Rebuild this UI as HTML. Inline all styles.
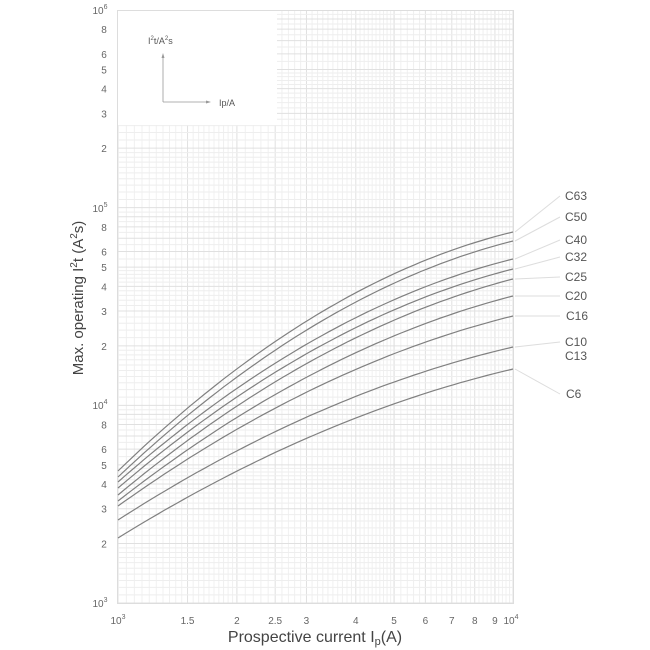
<!DOCTYPE html>
<html><head><meta charset="utf-8"><style>
html,body{margin:0;padding:0;background:#fff;}
svg{display:block;font-family:"Liberation Sans",Arial,sans-serif;}
</style></head><body>
<svg id="s" width="650" height="650" viewBox="0 0 650 650" xmlns="http://www.w3.org/2000/svg">
<g id="grid"></g>
<rect x="117" y="10" width="160" height="115" fill="#fff"/>
<rect x="117.5" y="10.5" width="396" height="593" fill="none" stroke="#ddd" stroke-width="1"/>
<g id="curves" fill="none" stroke="#808080" stroke-width="1.2"></g>
<g id="leaders" stroke="#ddd" stroke-width="1"></g>
<g fill="#555" font-size="12">
<text x="565" y="200">C63</text><text x="565" y="221">C50</text><text x="565" y="244">C40</text>
<text x="565" y="261">C32</text><text x="565" y="281">C25</text><text x="565" y="300">C20</text>
<text x="566" y="320">C16</text><text x="565" y="346">C10</text><text x="565" y="360">C13</text>
<text x="566" y="398">C6</text>
</g>
<g id="ticks" fill="#666" font-size="10"></g>
<g fill="#555" font-size="9">
<text x="148" y="44">I<tspan dy="-4" font-size="6">2</tspan><tspan dy="4">t/A</tspan><tspan dy="-4" font-size="6">2</tspan><tspan dy="4">s</tspan></text>
<text x="219" y="106">Ip/A</text>
</g>
<g stroke="#999" stroke-width="0.8" fill="none"><line x1="163" y1="102" x2="163" y2="56"/><line x1="163" y1="102" x2="208" y2="102"/></g>
<polygon points="161.5,58 164.5,58 163,53" fill="#999"/><polygon points="206,100.5 206,103.5 211,102" fill="#999"/>
<text x="315" y="642" text-anchor="middle" fill="#444" font-size="16">Prospective current I<tspan font-size="11" dy="3">p</tspan><tspan dy="-3">(A)</tspan></text>
<text transform="translate(83,298) rotate(-90)" text-anchor="middle" fill="#444" font-size="15">Max. operating I<tspan dy="-6" font-size="10">2</tspan><tspan dy="6">t  (A</tspan><tspan dy="-6" font-size="10">2</tspan><tspan dy="6">s)</tspan></text>
</svg>
<script>
var NS="http://www.w3.org/2000/svg",L=118,R=513,T=10,B=603,dec=(B-T)/3;
function X(v){return L+Math.log10(v/1000)*(R-L);}
function Y(v){return B-Math.log10(v/1000)*dec;}
function el(p,n,a){var e=document.createElementNS(NS,n);for(var k in a)e.setAttribute(k,a[k]);p.appendChild(e);return e;}
var g=document.getElementById("grid");
function isMaj(m){return Math.abs(m-Math.round(m))<1e-6;}
var sx=[];for(var m=1;m<2;m+=0.05)sx.push(m);for(var m=2;m<5;m+=0.1)sx.push(m);for(var m=5;m<10;m+=0.2)sx.push(m);
var sy=[];for(var m=1;m<2;m+=0.1)sy.push(m);for(var m=2;m<5;m+=0.2)sy.push(m);for(var m=5;m<10;m+=0.5)sy.push(m);
sx.forEach(function(m){var x=X(1000*m);el(g,"line",{x1:x,x2:x,y1:T,y2:B,stroke:isMaj(m)||Math.abs(m-2.5)<1e-6||Math.abs(m-1.5)<1e-6?"#e0e0e0":"#f0f0f0","stroke-width":1});});
for(var d=0;d<3;d++){sy.forEach(function(m){var y=Y(1000*Math.pow(10,d)*m);el(g,"line",{x1:L,x2:R,y1:y,y2:y,stroke:isMaj(m)?"#e0e0e0":"#eeeeee","stroke-width":1});});}
var c=document.getElementById("curves"),ld=document.getElementById("leaders");
var s0=[471,477,482,488,495,501,506,520,538],s1=[232,241,259,269,279,296,316,347,369];
var ly=[196,217,240,257,277,296,316,342,394];
for(var i=0;i<9;i++){var a=0.6-0.15*i/8,pts=[];for(var k=0;k<=60;k++){var t=k/60,f=(1+a)*t-a*t*t;pts.push((L+t*(R-L)).toFixed(1)+","+(s0[i]+(s1[i]-s0[i])*f).toFixed(1));}
el(c,"polyline",{points:pts.join(" ")});el(ld,"line",{x1:R+2,y1:s1[i],x2:560,y2:ly[i]});}
var tk=document.getElementById("ticks");
function tx(p,x,y,s,anc){var t=el(p,"text",{x:x,y:y,"text-anchor":anc||"middle"});t.textContent=s;return t;}
[[1.5,"1.5"],[2,"2"],[2.5,"2.5"],[3,"3"],[4,"4"],[5,"5"],[6,"6"],[7,"7"],[8,"8"],[9,"9"]].forEach(function(p){tx(tk,X(1000*p[0]),624,p[1]);});
function pw(x,y,e,anc){var t=tx(tk,x,y,"10",anc);var s=el(t,"tspan",{dy:-5,"font-size":7});s.textContent=e;}
pw(118,624,"3");pw(X(10000)-2,624,"4");
for(var d=0;d<3;d++){[2,3,4,5,6,8].forEach(function(m){tx(tk,104,Y(1000*Math.pow(10,d)*m)+4,String(m),"middle");});}
[[3,603],[4,405],[5,208],[6,10]].forEach(function(p){pw(100,p[1]+4,String(p[0]),"middle");});
</script>
</body></html>
